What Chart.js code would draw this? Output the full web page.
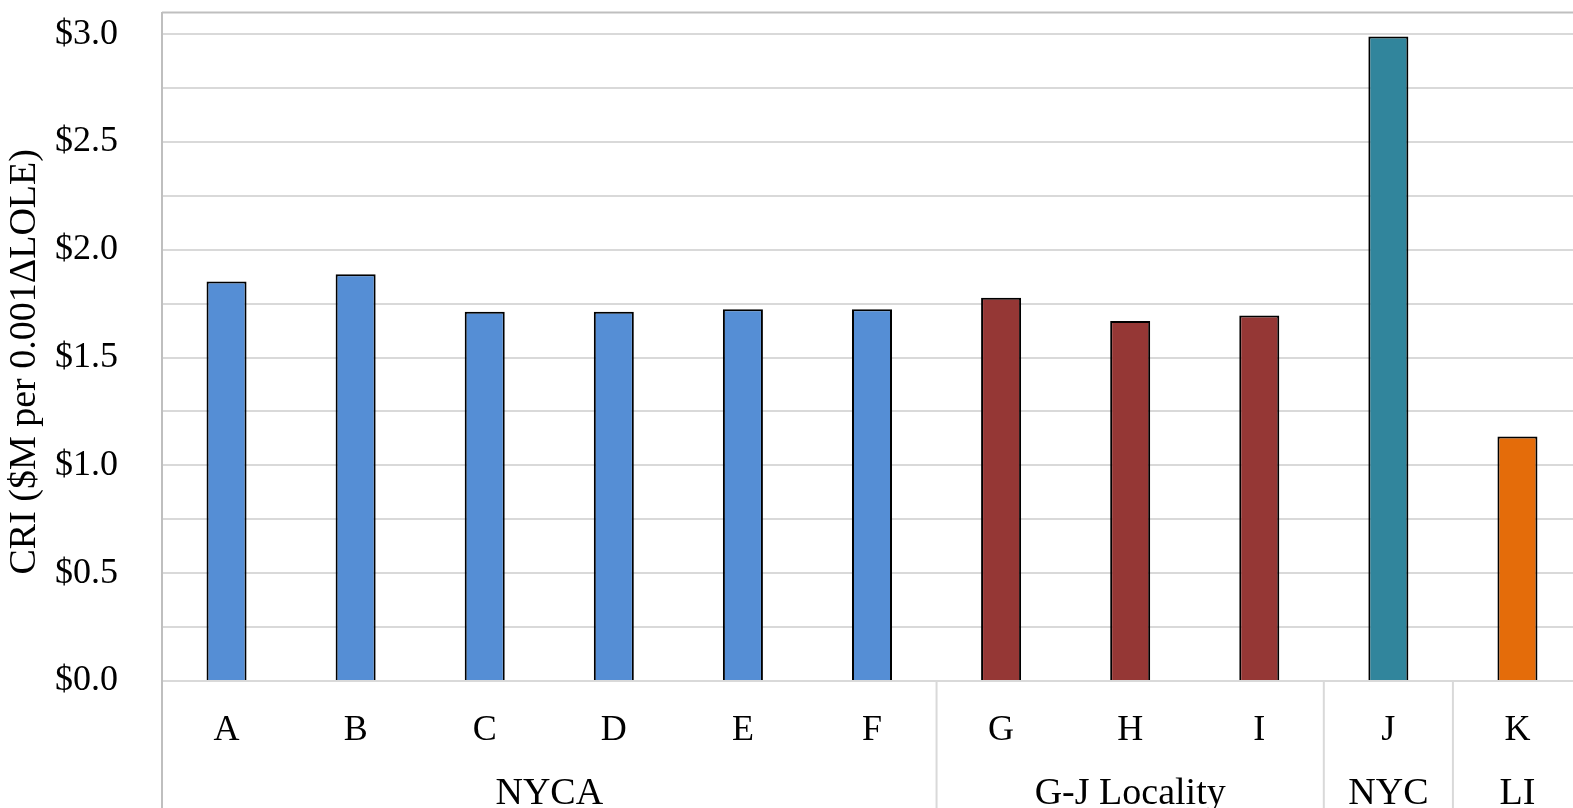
<!DOCTYPE html>
<html>
<head>
<meta charset="utf-8">
<script src="https://cdn.jsdelivr.net/npm/chart.js@4.4.0/dist/chart.umd.min.js"></script>
<style>
  html, body { margin: 0; padding: 0; overflow: hidden; background: #fff; }
  #wrap { position: absolute; left: 0; top: -53px; width: 1582px; height: 863px; }
</style>
</head>
<body>
<div id="wrap"><canvas id="myChart"></canvas></div>
<script>
// Dados do gráfico
const categories = ['A', 'B', 'C', 'D', 'E', 'F', 'G', 'H', 'I', 'J', 'K'];
const criValues = [1.853, 1.886, 1.713, 1.713, 1.724, 1.724, 1.777, 1.670, 1.695, 2.989, 1.134];
const groupNames = ['NYCA', 'G-J Locality', 'NYC', 'LI'];
const groupSizes = [6, 3, 1, 1];
const groupColors = ['#558ED5', '#953735', '#31859C', '#E46C0A'];
const yTicks = [0, 0.25, 0.5, 0.75, 1.0, 1.25, 1.5, 1.75, 2.0, 2.25, 2.5, 2.75, 3.0];
const yLabels = [0, 0.5, 1.0, 1.5, 2.0, 2.5, 3.0];
const yTitle = 'CRI ($M per 0.001\u0394LOLE)';

// Cor de cada barra conforme o grupo
const barColors = [];
groupSizes.forEach((n, g) => { for (let i = 0; i < n; i++) barColors.push(groupColors[g]); });

const serif = "'Liberation Serif', 'Times New Roman', serif";

// Plugin para desenhar os rótulos dos grupos, os separadores e o título do eixo Y
const groupPlugin = {
    id: 'groupPlugin',
    afterDraw(chart) {
        const ctx = chart.ctx;
        const x = chart.scales.x;
        const area = chart.chartArea;
        const half = (x.getPixelForValue(1) - x.getPixelForValue(0)) / 2;
        ctx.save();
        // borda superior da área do gráfico
        ctx.strokeStyle = '#bfbfbf';
        ctx.lineWidth = 2;
        ctx.beginPath();
        ctx.moveTo(area.left, area.top);
        ctx.lineTo(area.right, area.top);
        ctx.stroke();
        // separadores
        ctx.strokeStyle = '#d9d9d9';
        ctx.lineWidth = 2;
        let start = 0;
        groupSizes.forEach((n, g) => {
            const end = start + n;
            if (g > 0) {
                const px = x.getPixelForValue(start) - half;
                ctx.beginPath();
                ctx.moveTo(px, area.bottom);
                ctx.lineTo(px, chart.height);
                ctx.stroke();
            }
            const cx = (x.getPixelForValue(start) + x.getPixelForValue(end - 1)) / 2;
            ctx.fillStyle = '#000';
            ctx.font = '38px ' + serif;
            ctx.textAlign = 'center';
            ctx.textBaseline = 'middle';
            ctx.fillText(groupNames[g], cx, area.bottom + 113);
            start = end;
        });
        // linha esquerda até o fim
        ctx.strokeStyle = '#bfbfbf';
        ctx.beginPath();
        ctx.moveTo(area.left, area.top);
        ctx.lineTo(area.left, chart.height);
        ctx.stroke();
        // título do eixo Y
        ctx.translate(25, (area.top + area.bottom) / 2 + 15);
        ctx.rotate(-Math.PI / 2);
        ctx.fillStyle = '#000';
        ctx.font = '38px ' + serif;
        ctx.textAlign = 'center';
        ctx.textBaseline = 'middle';
        ctx.fillText(yTitle, 0, 0);
        ctx.restore();
    }
};

const ctx = document.getElementById('myChart').getContext('2d');
new Chart(ctx, {
    type: 'bar',
    data: {
        labels: categories,
        datasets: [{
            data: criValues,
            backgroundColor: barColors,
            borderColor: '#000',
            borderWidth: 2,
            categoryPercentage: 1.0,
            barPercentage: 0.31
        }]
    },
    options: {
        responsive: true,
        maintainAspectRatio: false,
        animation: false,
        layout: { padding: 0 },
        plugins: {
            legend: { display: false },
            tooltip: { enabled: false }
        },
        scales: {
            x: {
                grid: { display: false },
                border: { color: '#d9d9d9', width: 2 },
                ticks: {
                    color: '#000',
                    font: { family: serif, size: 36 },
                    padding: 20,
                    maxRotation: 0
                },
                afterFit(scale) { scale.height = 129; }
            },
            y: {
                min: 0,
                max: 3.1,
                afterBuildTicks(scale) { scale.ticks = yTicks.map(v => ({ value: v })); },
                grid: { color: '#d9d9d9', lineWidth: 2, drawTicks: false },
                border: { color: '#bfbfbf', width: 2 },
                ticks: {
                    color: '#000',
                    font: { family: serif, size: 36 },
                    padding: 44,
                    callback: v => yLabels.some(l => Math.abs(l - v) < 1e-6) ? '$' + v.toFixed(1) : ''
                },
                afterFit(scale) { scale.width = 162; }
            }
        }
    },
    plugins: [groupPlugin]
});
</script>
</body>
</html>
